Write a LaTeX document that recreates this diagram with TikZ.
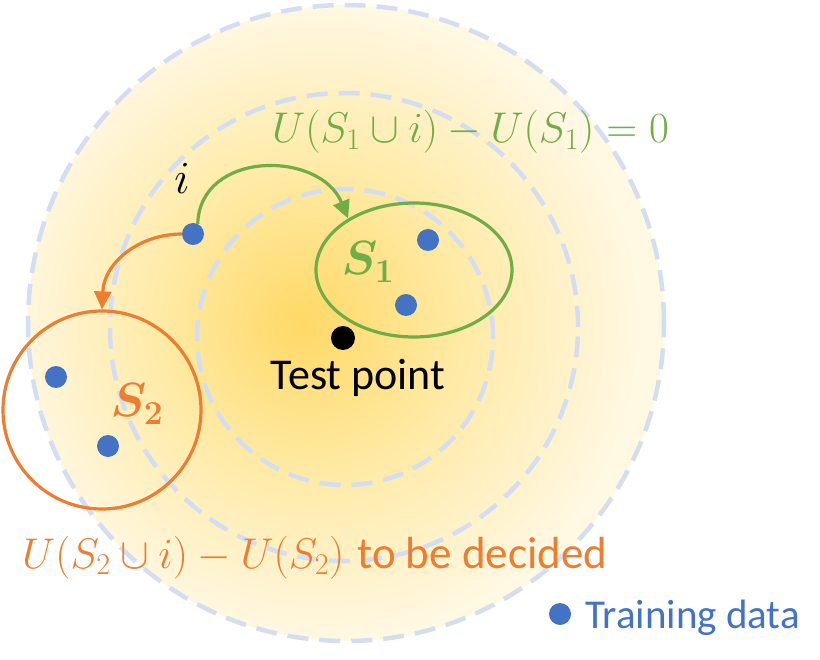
\RequirePackage{fix-cm}
\documentclass[tikz,border=0pt]{standalone}
\usepackage{amsmath}
\usepackage{fontspec}
\newfontfamily\cand{Carlito}
\usetikzlibrary{arrows.meta,shapes.geometric}
\definecolor{grn}{HTML}{70AD47}
\definecolor{org}{HTML}{ED7D31}
\definecolor{blu}{HTML}{4472C4}
\definecolor{dsh}{HTML}{D4DEF2}
\definecolor{gold1}{HTML}{FFD966}
\definecolor{gold2}{HTML}{FFEAA6}
\definecolor{gold3}{HTML}{FFF8E3}
\pgfdeclareradialshading{glow}{\pgfpoint{-3.5bp}{0bp}}{color(0bp)=(gold1); color(12bp)=(gold2); color(25bp)=(gold3); color(50bp)=(gold3)}
\begin{document}
\begin{tikzpicture}[x=1pt,y=-1pt,
  dotn/.style={circle,fill=blu,inner sep=0pt,minimum size=22pt},
  ring/.style={draw=dsh,line width=4.5pt,dash pattern=on 21pt off 11pt},
  mth/.style={font=\fontsize{43}{47}\selectfont,inner sep=0pt},
  arr/.style={line width=3.2pt,-{Triangle[length=18pt,width=17pt]}}]
\useasboundingbox (0,0) rectangle (820,660);
\shade[shading=glow] (346,323) circle[radius=318pt];
\draw[ring] (346,323) circle[radius=318pt];
\draw[ring] (344,327) circle[radius=234pt];
\draw[ring] (345,337) circle[radius=148pt];
% test point
\node[circle,fill=black,inner sep=0pt,minimum size=24pt] (tp) at (343,338) {};
\node[inner sep=0pt,font=\cand\fontsize{44}{48}\selectfont,anchor=base] (tpl) at (358,390) {Test point};
% S1
\node[ellipse,draw=grn,line width=3.2pt,minimum width=196pt,minimum height=134pt,inner sep=0pt] (s1) at (414,270) {};
\node[dotn] (a1) at (428,240) {};
\node[dotn] (a2) at (406,305) {};
\node[inner sep=0pt,text=grn,font=\fontsize{48}{52}\selectfont] (s1l) at (368,262) {$\boldsymbol{S_1}$};
% S2
\node[circle,draw=org,line width=3.2pt,minimum size=198pt,inner sep=0pt] (s2) at (102,410) {};
\node[dotn] (b1) at (56,377) {};
\node[dotn] (b2) at (108,446) {};
\node[inner sep=0pt,text=org,font=\fontsize{48}{52}\selectfont] (s2l) at (137,404) {$\boldsymbol{S_2}$};
% i
\node[dotn] (i) at (193,234) {};
\node[inner sep=0pt,font=\fontsize{46}{50}\selectfont] (il) at (182,178) {$i$};
\draw[arr,grn] (i.65) .. controls (200,150) and (320,150) .. (s1.142);
\draw[arr,org] (i.west) .. controls (140,234) and (104,262) .. (s2.north);
% labels
\node[mth,text=grn,anchor=base west] (eq1) at (272,143) {$U(S_1\cup i)-U(S_1)=0$};
\node[mth,text=org,anchor=base west] (eq2) at (22,568) {$U(S_2\cup i)-U(S_2)$ {\cand\fontsize{45}{49}\selectfont to be decided}};
% legend
\node[dotn] (td) at (560,614) {};
\node[inner sep=0pt,font=\cand\fontsize{41}{45}\selectfont,text=blu,anchor=base west] (tdl) at (585,628) {Training data};
\end{tikzpicture}
\end{document}
